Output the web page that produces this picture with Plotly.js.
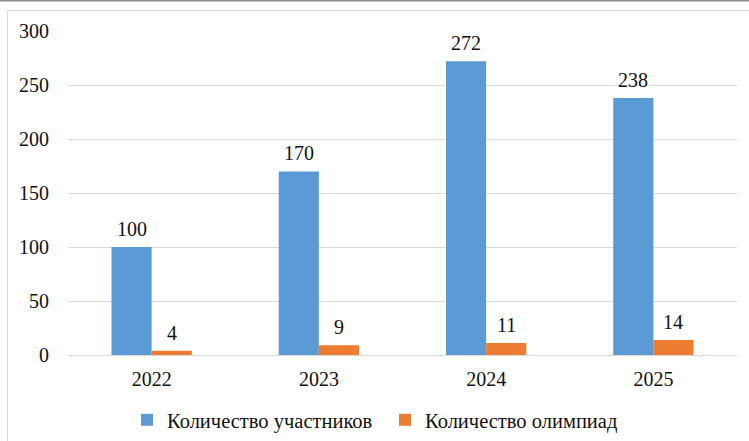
<!DOCTYPE html>
<html>
<head>
<meta charset="utf-8">
<script src="https://cdn.plot.ly/plotly-3.0.1.min.js"></script>
<style>html,body{margin:0;padding:0;background:#fff;}#chart{width:749px;height:441px;}</style>
</head>
<body>
<div id="chart"></div>
<script>
const years = ['2022', '2023', '2024', '2025'];
const participants = [100, 170, 272, 238];
const olympiads = [4, 9, 11, 14];
const seriesNames = ['Количество участников', 'Количество олимпиад'];
const yTicks = [0, 50, 100, 150, 200, 250, 300];

const W = 749, H = 441;
const L = 68, R = 12, T = 31, B = 86;
const pw = W - L - R, ph = H - T - B;
const px = x => (x - L) / pw;
const py = y => (H - B - y) / ph;

const mkFont = (s) => ({family: 'Liberation Serif', size: s || 20, color: '#111111'});

const traces = [
  {type: 'bar', x: years, y: participants, name: seriesNames[0],
   marker: {color: '#5B9BD5'}, hoverinfo: 'none'},
  {type: 'bar', x: years, y: olympiads, name: seriesNames[1],
   marker: {color: '#ED7D31'}, hoverinfo: 'none'}
];

const annotations = [];
[[participants, -20], [olympiads, 20]].forEach(([vals, dx]) => {
  vals.forEach((v, i) => annotations.push({
    x: i, y: v, xref: 'x', yref: 'y', text: String(v), showarrow: false,
    xshift: dx, yshift: 5, yanchor: 'bottom', font: mkFont()
  }));
});

const layout = {
  width: W, height: H,
  margin: {l: L, r: R, t: T, b: B},
  paper_bgcolor: '#fff', plot_bgcolor: '#fff',
  font: mkFont(),
  barmode: 'group', bargap: 0.52, bargroupgap: 0,
  xaxis: {type: 'category', categoryarray: years, range: [-0.5, years.length - 0.5],
          showgrid: false, zeroline: false, showline: false,
          ticks: '', tickfont: mkFont(), ticklabelstandoff: 10, automargin: false},
  yaxis: {range: [0, 300], tickvals: yTicks, showgrid: true, gridcolor: '#D9D9D9',
          gridwidth: 1, zeroline: true, zerolinecolor: '#D9D9D9', zerolinewidth: 1,
          showline: false, ticks: '', tickfont: mkFont(), ticklabelstandoff: 18, automargin: false},
  showlegend: true,
  legend: {orientation: 'h', xref: 'container', yref: 'container',
           x: 127 / W, xanchor: 'left', y: 1 - 420 / H, yanchor: 'middle',
           font: mkFont(20.5), itemwidth: 30, entrywidth: 213, tracegroupgap: 0,
           bgcolor: 'rgba(0,0,0,0)'},
  annotations: annotations,
  shapes: [
    {type: 'line', xref: 'paper', yref: 'paper', x0: px(0), x1: px(W), y0: py(0.5), y1: py(0.5),
     line: {color: '#8C8C8C', width: 2}},
    {type: 'line', xref: 'paper', yref: 'paper', x0: px(7.5), x1: px(W), y0: py(10.5), y1: py(10.5),
     line: {color: '#D9D9D9', width: 1}},
    {type: 'line', xref: 'paper', yref: 'paper', x0: px(7.5), x1: px(7.5), y0: py(10.5), y1: py(H),
     line: {color: '#D9D9D9', width: 1}}
  ]
};

Plotly.newPlot('chart', traces, layout, {displayModeBar: false, staticPlot: true});
</script>
</body>
</html>
